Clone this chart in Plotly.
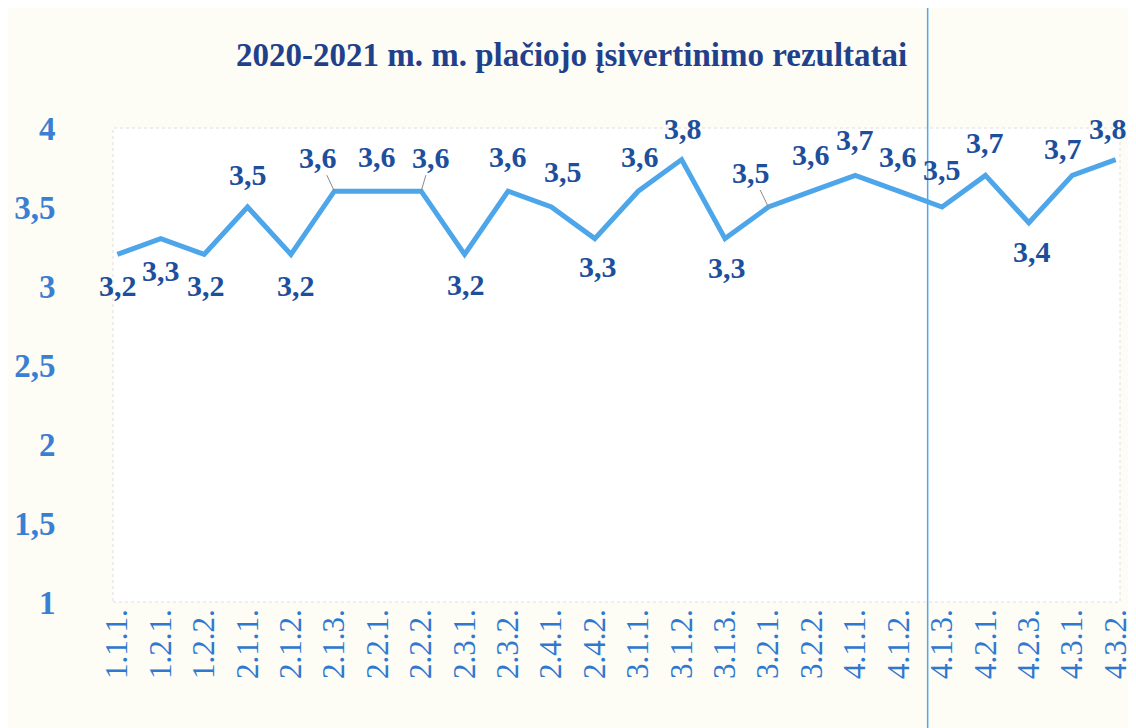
import plotly.graph_objects as go

categories = ["1.1.1.", "1.2.1.", "1.2.2.", "2.1.1.", "2.1.2.", "2.1.3.", "2.2.1.", "2.2.2.",
              "2.3.1.", "2.3.2.", "2.4.1.", "2.4.2.", "3.1.1.", "3.1.2.", "3.1.3.", "3.2.1.",
              "3.2.2.", "4.1.1.", "4.1.2.", "4.1.3.", "4.2.1.", "4.2.3.", "4.3.1.", "4.3.2."]
values = [3.2, 3.3, 3.2, 3.5, 3.2, 3.6, 3.6, 3.6, 3.2, 3.6, 3.5, 3.3,
          3.6, 3.8, 3.3, 3.5, 3.6, 3.7, 3.6, 3.5, 3.7, 3.4, 3.7, 3.8]
y_ticks = [1, 1.5, 2, 2.5, 3, 3.5, 4]
title_text = "2020-2021 m. m. plačiojo įsivertinimo rezultatai"

# label offsets in pixels (style only)
label_dx = [1, 0, 2, 0, 5, -16, -1, 10, 1, 0, 12, 3, 2, 1, 2, -17, -1, 0, -1, 0, 0, 3, -9, -8]
label_dy = [31, 32, 31, -33, 31, -34, -35, -34, 30, -35, -36, 28, -35, -31, 29, -35, -37, -36, -35, -38, -33, 29, -27, -31]
leaders = {5, 7, 15}

FONT = "Liberation Serif"
fig = go.Figure()
fig.add_trace(go.Scatter(
    x=categories, y=values, mode="lines",
    line=dict(color="#4da6ea", width=5), hoverinfo="x+y"
))

for i, (c, v) in enumerate(zip(categories, values)):
    fig.add_annotation(
        x=c, y=v, text="<b>" + f"{v:.1f}".replace(".", ",") + "</b>",
        showarrow=True, ax=label_dx[i], ay=label_dy[i],
        arrowhead=0, arrowwidth=1, standoff=0,
        arrowcolor="#8a8a8a" if i in leaders else "rgba(0,0,0,0)",
        font=dict(family=FONT, size=30, color="#1d4f9c"),
    )

fig.add_annotation(
    xref="paper", yref="paper", x=0.455, y=1.155, text=f"<b>{title_text}</b>",
    showarrow=False, font=dict(family=FONT, size=33, color="#1f418c"),
    xanchor="center", yanchor="middle"
)

fig.add_shape(type="line", xref="paper", yref="paper", x0=0.809, x1=0.809, y0=-0.35, y1=1.3,
              line=dict(color="#4aa8ee", width=1.5))
fig.add_shape(type="rect", xref="paper", yref="paper", x0=0, x1=1, y0=0, y1=1,
              line=dict(color="#dedede", width=1, dash="dot"), layer="below")

fig.update_layout(
    width=1136, height=728,
    margin=dict(l=105, r=24, t=120, b=134, autoexpand=False),
    paper_bgcolor="#fdfcf5", plot_bgcolor="#ffffff",
    separators=",.",
    showlegend=False,
    xaxis=dict(
        type="category", range=[-0.1, 23.1], showgrid=False, zeroline=False,
        automargin=False,
        tickangle=-90, ticks="", ticklen=0,
        tickfont=dict(family=FONT, size=31, color="#2f78d0"), showline=False,
    ),
    yaxis=dict(
        range=[1, 4], tickvals=y_ticks, showgrid=False, zeroline=False, showline=False,
        automargin=False,
        ticks="outside", ticklen=50, tickcolor="rgba(0,0,0,0)",
        tickfont=dict(family=FONT, size=33, color="#3a7fd3", weight="bold"),
        tickformat="~g",
    ),
)
fig.write_html("out.html")
